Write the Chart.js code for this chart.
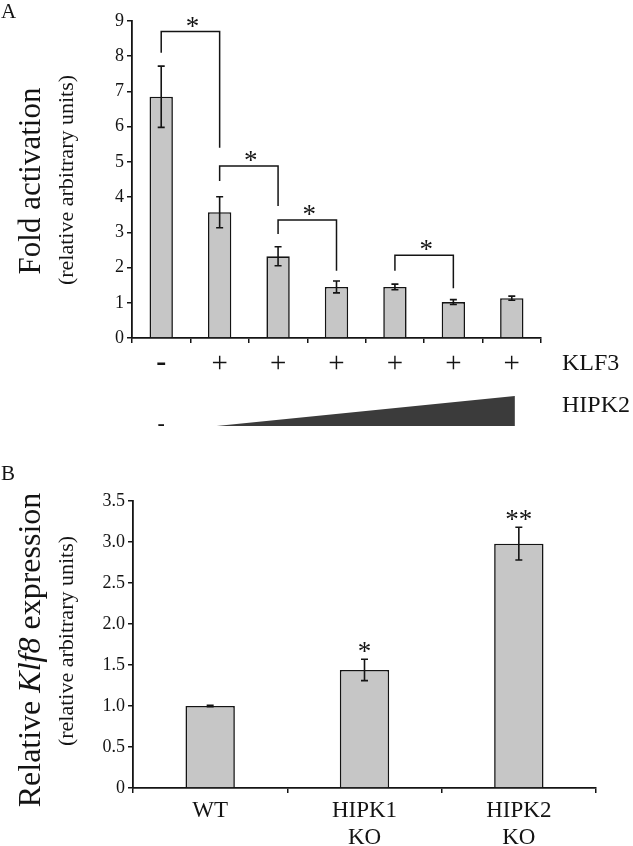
<!DOCTYPE html>
<html>
<head>
<meta charset="utf-8">
<script src="https://cdn.jsdelivr.net/npm/chart.js@4.4.1/dist/chart.umd.min.js"></script>
<style>
    body { margin: 0; background: #fff; width: 633px; height: 846px; position: relative; overflow: hidden; }
    #boxA { position: absolute; left: 0; top: 0; width: 633px; height: 440px; }
    #boxB { position: absolute; left: 0; top: 440px; width: 633px; height: 406px; }
</style>
</head>
<body>
<div id="boxA"><canvas id="chartA"></canvas></div>
<div id="boxB"><canvas id="chartB"></canvas></div>
<script>
// ------------------------------------------------------------
// Data
// ------------------------------------------------------------
// Panel A : KLF3 + increasing HIPK2
const klf3 = ['-', '+', '+', '+', '+', '+', '+']
const foldMean = [6.85, 3.57, 2.32, 1.45, 1.45, 1.02, 1.13]
const foldErr = [0.87, 0.44, 0.27, 0.17, 0.08, 0.07, 0.06]
// significance brackets: [from bar, to bar, bracket top, left leg end, right leg end]
const bracketsA = [
    [0, 1, 8.7, 8.1, 5.4],
    [1, 2, 4.88, 4.46, 3.75],
    [2, 3, 3.35, 2.95, 1.91],
    [4, 5, 2.35, 1.91, 1.41]
]

// Panel B : Klf8 expression
const genotypes = ['WT', ['HIPK1', 'KO'], ['HIPK2', 'KO']]
const exprMean = [1.0, 1.44, 2.98]
const exprErr = [0.01, 0.13, 0.2]
const exprStars = ['', '*', '**']

const SERIF = "'Liberation Serif', 'Times New Roman', serif"
const INK = '#141414'
Chart.defaults.font.family = SERIF
Chart.defaults.color = INK

// ------------------------------------------------------------
// Helpers
// ------------------------------------------------------------
function drawErrorBars(chart, means, errs) {
    const ctx = chart.ctx
    const y = chart.scales.y
    const bars = chart.getDatasetMeta(0).data
    ctx.save()
    ctx.strokeStyle = INK
    ctx.lineWidth = 1.6
    bars.forEach((bar, i) => {
        const top = y.getPixelForValue(means[i] + errs[i])
        const bot = y.getPixelForValue(means[i] - errs[i])
        ctx.beginPath()
        ctx.moveTo(bar.x, top); ctx.lineTo(bar.x, bot)
        ctx.moveTo(bar.x - 3.5, top); ctx.lineTo(bar.x + 3.5, top)
        ctx.moveTo(bar.x - 3.5, bot); ctx.lineTo(bar.x + 3.5, bot)
        ctx.stroke()
    })
    ctx.restore()
}

function rotatedTitle(ctx, x, y, parts) {
    // parts: [[text, font], ...] drawn bottom-to-top, centred on y
    ctx.save()
    ctx.translate(x, y)
    ctx.rotate(-Math.PI / 2)
    ctx.fillStyle = INK
    ctx.textBaseline = 'alphabetic'
    ctx.textAlign = 'left'
    let total = 0
    parts.forEach(p => { ctx.font = p[1]; total += ctx.measureText(p[0]).width })
    let cx = -total / 2
    parts.forEach(p => {
        ctx.font = p[1]
        ctx.fillText(p[0], cx, 0)
        cx += ctx.measureText(p[0]).width
    })
    ctx.restore()
}

function yAxis(max, step, cb) {
    return {
        min: 0, max: max,
        ticks: { stepSize: step, font: { size: 18 }, padding: 3, color: INK, callback: cb },
        grid: { drawOnChartArea: false, drawTicks: true, tickLength: 5, color: INK, lineWidth: 1.5 },
        border: { color: INK, width: 1.8 }
    }
}

// ------------------------------------------------------------
// Panel A
// ------------------------------------------------------------
const extrasA = {
    id: 'extrasA',
    afterDatasetsDraw(chart) {
        const ctx = chart.ctx
        const x = chart.scales.x
        const y = chart.scales.y
        drawErrorBars(chart, foldMean, foldErr)

        // brackets + stars
        ctx.save()
        ctx.strokeStyle = INK
        ctx.lineWidth = 1.5
        ctx.fillStyle = INK
        ctx.textAlign = 'center'
        ctx.textBaseline = 'alphabetic'
        ctx.font = '27px ' + SERIF
        bracketsA.forEach(b => {
            const x1 = x.getPixelForValue(b[0])
            const x2 = x.getPixelForValue(b[1])
            const yt = y.getPixelForValue(b[2])
            ctx.beginPath()
            ctx.moveTo(x1, y.getPixelForValue(b[3]))
            ctx.lineTo(x1, yt)
            ctx.lineTo(x2, yt)
            ctx.lineTo(x2, y.getPixelForValue(b[4]))
            ctx.stroke()
            ctx.fillText('*', (x1 + x2) / 2 + 2, yt + 3)
        })

        // KLF3 row
        ctx.textBaseline = 'middle'
        klf3.forEach((s, i) => {
            const px = x.getPixelForValue(i)
            if (s === '-') {
                ctx.font = 'bold 30px ' + SERIF
                ctx.fillText('-', px, 363)
            } else {
                ctx.font = '29px ' + SERIF
                ctx.fillText('+', px, 364)
            }
        })
        ctx.textAlign = 'left'
        ctx.font = '24px ' + SERIF
        ctx.fillText('KLF3', 562, 364)

        // HIPK2 wedge
        const w0 = x.getPixelForValue(1) - 3
        const w1 = x.getPixelForValue(6) + 3
        ctx.fillStyle = '#3b3b3b'
        ctx.beginPath()
        ctx.moveTo(w0, 426)
        ctx.lineTo(w1, 426)
        ctx.lineTo(w1, 396)
        ctx.closePath()
        ctx.fill()
        ctx.fillStyle = INK
        ctx.textAlign = 'center'
        ctx.font = 'bold 22px ' + SERIF
        ctx.fillText('-', x.getPixelForValue(0), 424)
        ctx.textAlign = 'left'
        ctx.font = '24px ' + SERIF
        ctx.fillText('HIPK2', 562, 406)

        // panel letter
        ctx.textBaseline = 'alphabetic'
        ctx.font = '21px ' + SERIF
        ctx.fillText('A', 1, 18)
        ctx.restore()

        rotatedTitle(ctx, 40, 181, [['Fold activation', '31px ' + SERIF]])
        rotatedTitle(ctx, 73, 180, [['(relative arbitrary units)', '22px ' + SERIF]])
    }
}

new Chart(document.getElementById('chartA'), {
    type: 'bar',
    data: {
        labels: klf3,
        datasets: [{
            data: foldMean,
            backgroundColor: '#c6c6c6',
            borderColor: INK,
            borderWidth: 1.6,
            borderSkipped: 'bottom',
            categoryPercentage: 1,
            barPercentage: 0.4
        }]
    },
    options: {
        responsive: true,
        maintainAspectRatio: false,
        animation: false,
        layout: { padding: { left: 92, right: 92, top: 21, bottom: 0 } },
        plugins: { legend: { display: false }, tooltip: { enabled: false } },
        scales: {
            x: {
                ticks: { display: false },
                grid: { drawOnChartArea: false, drawTicks: true, tickLength: 5, color: INK, lineWidth: 1.5 },
                border: { color: INK, width: 1.8 },
                afterFit: s => { s.height = 102 }
            },
            y: Object.assign(yAxis(9, 1), { afterFit: s => { s.width = 40 } })
        }
    },
    plugins: [extrasA]
})

// ------------------------------------------------------------
// Panel B
// ------------------------------------------------------------
const extrasB = {
    id: 'extrasB',
    afterDatasetsDraw(chart) {
        const ctx = chart.ctx
        const y = chart.scales.y
        drawErrorBars(chart, exprMean, exprErr)

        ctx.save()
        ctx.fillStyle = INK
        ctx.textAlign = 'center'
        ctx.textBaseline = 'alphabetic'
        ctx.font = '27px ' + SERIF
        chart.getDatasetMeta(0).data.forEach((bar, i) => {
            if (!exprStars[i]) return
            const top = y.getPixelForValue(exprMean[i] + exprErr[i])
            ctx.fillText(exprStars[i].split('').join(''), bar.x, top + 1)
        })
        ctx.textAlign = 'left'
        ctx.font = '21px ' + SERIF
        ctx.fillText('B', 1, 40)
        ctx.restore()

        rotatedTitle(ctx, 40, 210, [
            ['Relative ', '32px ' + SERIF],
            ['Klf8', 'italic 32px ' + SERIF],
            [' expression', '32px ' + SERIF]
        ])
        rotatedTitle(ctx, 73, 201, [['(relative arbitrary units)', '22px ' + SERIF]])
    }
}

new Chart(document.getElementById('chartB'), {
    type: 'bar',
    data: {
        labels: genotypes,
        datasets: [{
            data: exprMean,
            backgroundColor: '#c6c6c6',
            borderColor: INK,
            borderWidth: 1.6,
            borderSkipped: 'bottom',
            categoryPercentage: 1,
            barPercentage: 0.32
        }]
    },
    options: {
        responsive: true,
        maintainAspectRatio: false,
        animation: false,
        layout: { padding: { left: 88, right: 37, top: 61, bottom: 0 } },
        plugins: { legend: { display: false }, tooltip: { enabled: false } },
        scales: {
            x: {
                ticks: { font: { size: 23, lineHeight: 1.2 }, padding: 4, color: INK, maxRotation: 0 },
                grid: { drawOnChartArea: false, drawTicks: true, tickLength: 5, color: INK, lineWidth: 1.5 },
                border: { color: INK, width: 1.8 },
                afterFit: s => { s.height = 58 }
            },
            y: Object.assign(yAxis(3.5, 0.5, v => v === 0 ? '0' : v.toFixed(1)), { afterFit: s => { s.width = 45 } })
        }
    },
    plugins: [extrasB]
})
</script>
</body>
</html>
